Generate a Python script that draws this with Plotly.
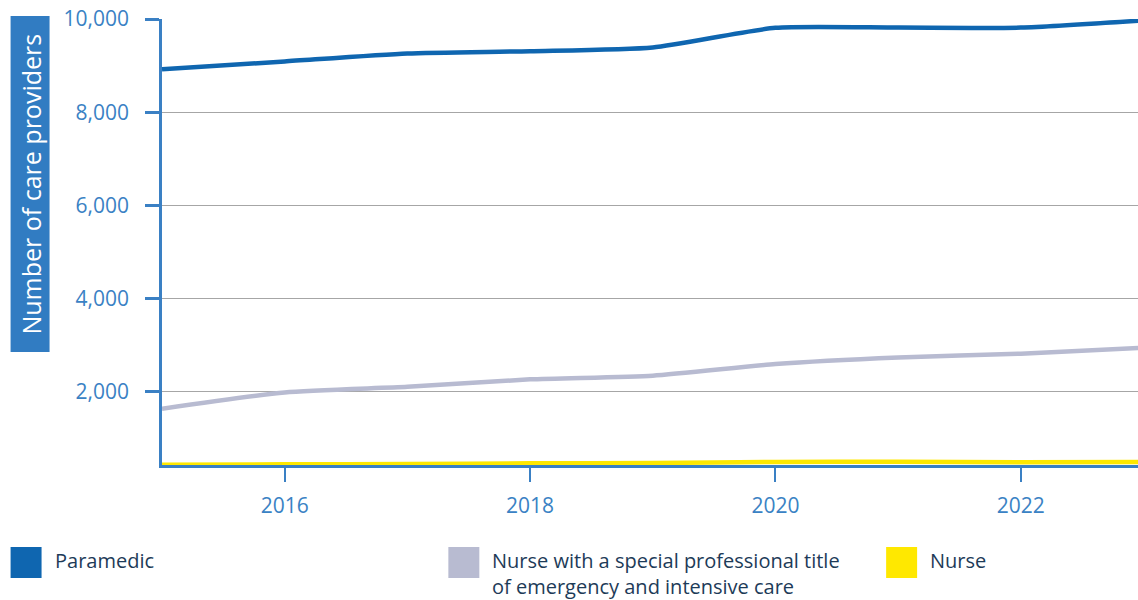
import plotly.graph_objects as go

years = [2015, 2016, 2017, 2018, 2019, 2020, 2021, 2022, 2023]
paramedic = [8920, 9090, 9260, 9310, 9390, 9810, 9815, 9815, 9970]
nurse_special = [1640, 1990, 2110, 2270, 2350, 2600, 2740, 2820, 2950]
nurse = [440, 448, 455, 468, 475, 500, 505, 490, 500]

series_names = ["Paramedic",
                "Nurse with a special professional title<br>of emergency and intensive care",
                "Nurse"]
series_colors = ["#0f66b0", "#b8bbd1", "#ffe800"]
series_values = [paramedic, nurse_special, nurse]

y_ticks = [2000, 4000, 6000, 8000, 10000]
x_ticks = [2016, 2018, 2020, 2022]
y_title = "Number of care providers"

W, H = 1138, 600
L, R, T, B = 161.5, 1138, 19, 465

def px_x(x):
    return (x - L) / (R - L)

def px_y(y):
    return (B - y) / (B - T)

tick_color = "#3a82c4"
axis_color = "#3a80c4"
font_family = "Open Sans"

fig = go.Figure()
for name, vals, col in zip(series_names, series_values, series_colors):
    fig.add_trace(go.Scatter(x=years, y=vals, mode="lines", name=name,
                             line=dict(color=col, width=4.5, shape="spline", smoothing=0.6),
                             showlegend=False))

shapes = []
annotations = []
# y title box
shapes.append(dict(type="rect", xref="paper", yref="paper",
                   x0=px_x(10), x1=px_x(49), y0=px_y(352), y1=px_y(16),
                   fillcolor="#317cc2", line=dict(width=0), layer="above"))
annotations.append(dict(xref="paper", yref="paper", x=px_x(30), y=px_y(184),
                        text=y_title, textangle=-90, showarrow=False,
                        font=dict(family=font_family, size=25, color="white"),
                        xanchor="center", yanchor="middle"))

# legend
leg_x = [10, 448, 886]
for i, (name, col) in enumerate(zip(series_names, series_colors)):
    x0 = leg_x[i]
    shapes.append(dict(type="rect", xref="paper", yref="paper",
                       x0=px_x(x0), x1=px_x(x0 + 31), y0=px_y(578), y1=px_y(547),
                       fillcolor=col, line=dict(width=0)))
    annotations.append(dict(xref="paper", yref="paper", x=px_x(x0 + 43),
                            y=px_y(546),
                            text=name, showarrow=False, align="left",
                            xanchor="left", yanchor="top", borderpad=0,
                            font=dict(family=font_family, size=20, color="#1d3b58")))

fig.update_layout(
    width=W, height=H,
    margin=dict(l=L, r=W - R, t=T, b=H - B),
    paper_bgcolor="white", plot_bgcolor="white",
    font=dict(family=font_family),
    shapes=shapes, annotations=annotations,
    showlegend=False,
)
fig.update_xaxes(range=[2015, 2015 + (R - L) / 122.75], tickvals=x_ticks,
                 showgrid=False, showline=True, linecolor=axis_color, linewidth=2.5,
                 ticks="outside", ticklen=14, tickwidth=2, tickcolor=axis_color,
                 ticklabelstandoff=6,
                 tickfont=dict(family=font_family, size=21, color=tick_color),
                 zeroline=False)
fig.update_yaxes(range=[433, 10000], tickvals=y_ticks, tickformat=",",
                 showgrid=True, gridcolor="#a6a6a6", gridwidth=1.2,
                 showline=True, linecolor=axis_color, linewidth=2.5,
                 ticks="outside", ticklen=14, tickwidth=2.5, tickcolor=axis_color,
                 ticklabelstandoff=12,
                 tickfont=dict(family=font_family, size=21, color=tick_color),
                 zeroline=False)

fig.write_html("out.html")
